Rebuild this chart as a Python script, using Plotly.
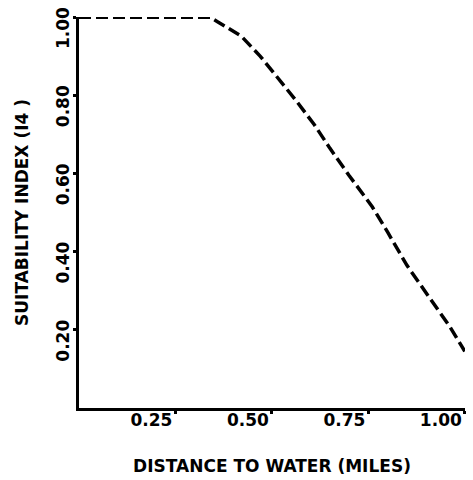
import plotly.graph_objects as go

distance = [0.0, 0.34, 0.36, 0.39, 0.42, 0.47, 0.52, 0.56, 0.61, 0.65, 0.70, 0.76, 0.80, 0.85, 0.91, 0.96, 1.0]
suitability = [1.0, 1.0, 0.988, 0.97, 0.952, 0.90, 0.84, 0.79, 0.725, 0.665, 0.595, 0.515, 0.45, 0.365, 0.28, 0.21, 0.145]

x_ticks = [0.25, 0.50, 0.75, 1.00]
x_tick_labels = ["0.25", "0.50", "0.75", "1.00"]
y_ticks = [0.20, 0.40, 0.60, 0.80, 1.00]
y_tick_labels = ["0.20", "0.40", "0.60", "0.80", "1.00"]

font_family = "DejaVu Sans, sans-serif"

fig = go.Figure()
fig.add_trace(go.Scatter(
    x=distance, y=suitability, mode="lines",
    line=dict(color="black", width=3.5, dash="12px,5px"),
    cliponaxis=False, showlegend=False,
))

fig.update_layout(
    width=473, height=480,
    margin=dict(l=79, r=8, t=17, b=72),
    paper_bgcolor="white", plot_bgcolor="white",
    font=dict(family=font_family, color="black"),
    xaxis=dict(
        range=[0, 1.0005], showgrid=False, zeroline=False, automargin=False,
        showline=True, linecolor="black", linewidth=3,
        tickvals=x_ticks, ticktext=x_tick_labels,
        ticks="outside", ticklen=3, tickwidth=3, tickcolor="black",
        ticklabeloverflow="allow", ticklabelposition="outside left",
        ticklabelstandoff=-5,
        tickfont=dict(size=17, family=font_family, weight="bold"),
        title=dict(text="DISTANCE TO WATER (MILES)", standoff=31,
                   font=dict(size=17, family=font_family, weight="bold")),
    ),
    yaxis=dict(
        range=[0, 1.0005], showgrid=False, zeroline=False, automargin=False,
        showline=True, linecolor="black", linewidth=3,
        tickvals=y_ticks, ticktext=y_tick_labels,
        ticks="outside", ticklen=3, tickwidth=3, tickcolor="black",
        ticklabeloverflow="allow", ticklabelposition="outside bottom",
        tickangle=-90, ticklabelstandoff=0,
        tickfont=dict(size=17, family=font_family, weight="bold"),
        title=dict(text="SUITABILITY INDEX (I4 )", standoff=21,
                   font=dict(size=17, family=font_family, weight="bold")),
    ),
)

fig.write_html("out.html", config={"displayModeBar": False},
               post_script="document.body.style.margin='0';")
